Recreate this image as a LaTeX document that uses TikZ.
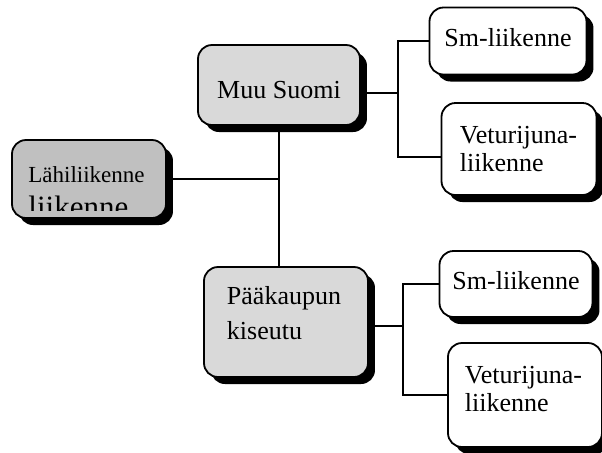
\documentclass[tikz,border=0pt]{standalone}
\usepackage{fontspec}
\setmainfont{Liberation Serif}
\usetikzlibrary{shadows}
\definecolor{rootgray}{HTML}{C0C0C0}
\definecolor{areagray}{HTML}{D9D9D9}
\tikzset{
  orgbox/.style={draw, line width=0.9pt, rounded corners=7pt, inner sep=0pt,
    font=\fontsize{13}{14}\selectfont,
    drop shadow={shadow xshift=3.5pt, shadow yshift=-3.5pt, fill=black, opacity=1}},
  link/.style={line width=0.9pt}
}

\begin{document}
\begin{tikzpicture}[x=0.5pt, y=-0.5pt]
  \useasboundingbox (0,0) rectangle (602,452);
  % left root
  \node[orgbox, fill=rootgray, minimum width=77pt, minimum height=39pt] (lahi) at (89,179) {};
  \node[anchor=west, inner sep=0pt, font=\fontsize{11.5}{13}\selectfont] (lahitext) at (28,175) {Lähiliikenne};
  \begin{scope}
    \clip (14,142) rectangle (164,210);
    \node[anchor=west, inner sep=0pt, font=\fontsize{15.5}{17}\selectfont] (lahiextra) at (28,207) {liikenne};
  \end{scope}
  % areas
  \node[orgbox, fill=areagray, minimum width=81pt, minimum height=40pt, text height=14pt] (muu) at (279,85) {Muu Suomi};
  \node[orgbox, fill=areagray, minimum width=82pt, minimum height=55pt, align=left,
        text width=59pt, text depth=27pt, font=\fontsize{13}{17.5}\selectfont] (paa) at (286,322) {Pääkaupun\\kiseutu};
  % traffic types
  \node[orgbox, fill=white, minimum width=78.5pt, minimum height=33.5pt, text depth=4pt] (sm1) at (508,41) {Sm-liikenne};
  \node[orgbox, fill=white, minimum width=77.5pt, minimum height=46pt, align=left,
        text width=59pt] (vet1) at (519,149) {Veturijuna-\\liikenne};
  \node[orgbox, fill=white, minimum width=76.5pt, minimum height=33pt, text depth=4pt] (sm2) at (516,284) {Sm-liikenne};
  \node[orgbox, fill=white, minimum width=77pt, minimum height=52pt, align=left,
        text width=60pt, text depth=20pt] (vet2) at (525,395) {Veturijuna-\\liikenne};
  % connectors
  \coordinate (upfork) at (398,93);
  \coordinate (lowfork) at (403,326);
  \draw[link] (lahi.east) -- (lahi.east -| muu.south);
  \draw[link] (muu.south) -- (muu.south |- paa.north);
  \draw[link] (muu.east |- upfork) -- (upfork);
  \draw[link] (sm1.west) -- (sm1.west -| upfork) -- ([yshift=-4pt]vet1.west -| upfork) -- ([yshift=-4pt]vet1.west);
  \draw[link] ([yshift=-2pt]paa.east) -- (lowfork);
  \draw[link] (sm2.west) -- (sm2.west -| lowfork) -- (vet2.west -| lowfork) -- (vet2.west);
\end{tikzpicture}
\end{document}
